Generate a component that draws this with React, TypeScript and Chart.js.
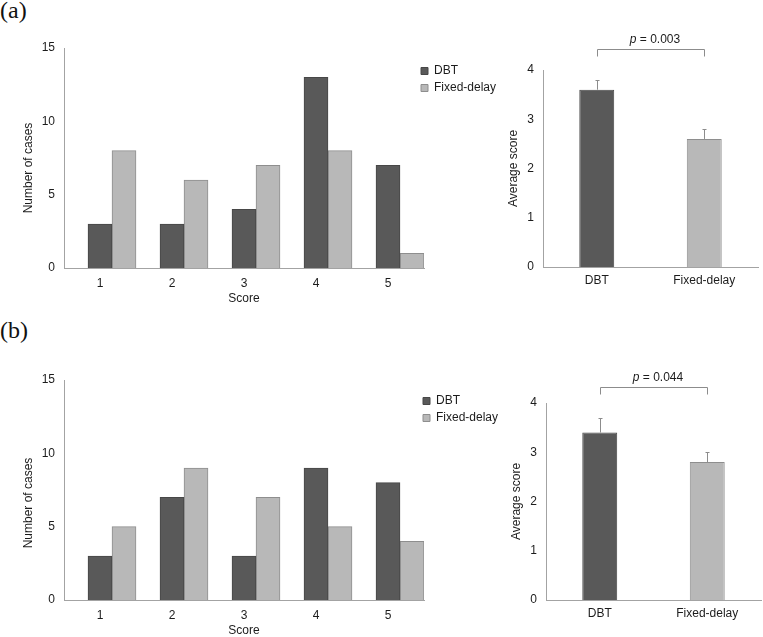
import React, { useEffect, useRef } from 'react';
import { Chart, registerables } from 'chart.js';

Chart.register(...registerables);

// ---------- data ----------
const scores = ['1', '2', '3', '4', '5'];
const dbtCountsA = [3, 3, 4, 13, 7];
const fixedCountsA = [8, 6, 7, 8, 1];
const dbtCountsB = [3, 7, 3, 9, 8];
const fixedCountsB = [5, 9, 7, 5, 4];
const countTicks = [0, 5, 10, 15];

const groups = ['DBT', 'Fixed-delay'];
const avgScoreA = [3.6, 2.6];
const avgErrA = [0.2, 0.2];
const avgScoreB = [3.4, 2.8];
const avgErrB = [0.3, 0.2];
const avgTicks = [0, 1, 2, 3, 4];
const pValueA = '0.003';
const pValueB = '0.044';

// ---------- styles ----------
const FAMILY = "'Liberation Sans', Arial, sans-serif";
const TEXT = '#1c1c1c';
const AXIS = '#a3a3a3';
const DARK = '#595959';
const DARK_BORDER = '#474747';
const LIGHT = '#b8b8b8';
const LIGHT_BORDER = '#8e8e8e';
const WHISKER = '#8c8c8c';
const FS = 12;
const font = { family: FAMILY, size: FS };

Chart.defaults.font.family = FAMILY;
Chart.defaults.font.size = FS;
Chart.defaults.color = TEXT;

// legend sizing / offset helper
const legendFix = {
  id: 'legendFix',
  beforeLayout(chart: any, _a: any, opts: any) {
    const lg = chart.legend;
    if (lg && !lg.__patched) {
      const orig = lg.fit.bind(lg);
      lg.fit = function () {
        orig();
        if (this.options.position === 'right') this.width = opts.width;
      };
      lg.__patched = true;
    }
  },
  afterLayout(chart: any, _a: any, opts: any) {
    const lg = chart.legend;
    if (!lg) return;
    lg.left += opts.dx;
    lg.right += opts.dx;
    lg.top += opts.dy;
    lg.bottom += opts.dy;
  },
};

// moves the y-axis title along the axis by a few pixels
const yTitleShift = {
  id: 'yTitleShift',
  beforeDraw(chart: any, _a: any, opts: any) {
    const s = chart.scales.y;
    if (s && !s.__shifted) {
      const orig = s.drawTitle.bind(s);
      s.drawTitle = function () {
        const ctx = chart.ctx;
        ctx.save();
        ctx.translate(0, opts.shift || 0);
        orig();
        ctx.restore();
      };
      s.__shifted = true;
    }
  },
};

const errorBars = {
  id: 'errorBars',
  afterDatasetsDraw(chart: any, _a: any, opts: any) {
    const { ctx } = chart;
    const meta = chart.getDatasetMeta(0);
    const ys = chart.scales.y;
    const vals = chart.data.datasets[0].data as number[];
    ctx.save();
    ctx.strokeStyle = opts.color;
    ctx.lineWidth = 1;
    meta.data.forEach((bar: any, i: number) => {
      const v = vals[i];
      const e = opts.errors[i];
      const x = Math.round(bar.x) + 0.5;
      const y0 = ys.getPixelForValue(v);
      const y1 = Math.round(ys.getPixelForValue(v + e)) + 0.5;
      ctx.beginPath();
      ctx.moveTo(x, y0);
      ctx.lineTo(x, y1);
      ctx.moveTo(x - opts.cap, y1);
      ctx.lineTo(x + opts.cap, y1);
      ctx.stroke();
    });
    ctx.restore();
  },
};

const sigBracket = {
  id: 'sigBracket',
  afterDraw(chart: any, _a: any, opts: any) {
    const { ctx } = chart;
    const xs = chart.scales.x;
    const ys = chart.scales.y;
    const x0 = Math.round(xs.getPixelForValue(0)) + 0.5;
    const x1 = Math.round(xs.getPixelForValue(1)) + 0.5;
    const y = Math.round(ys.getPixelForValue(opts.level)) + 0.5;
    ctx.save();
    ctx.strokeStyle = opts.color;
    ctx.lineWidth = 1;
    ctx.beginPath();
    ctx.moveTo(x0, y + opts.drop);
    ctx.lineTo(x0, y);
    ctx.lineTo(x1, y);
    ctx.lineTo(x1, y + opts.drop);
    ctx.stroke();
    const rest = ' = ' + opts.p;
    ctx.font = `italic ${FS}px ${FAMILY}`;
    const wP = ctx.measureText('p').width;
    ctx.font = `${FS}px ${FAMILY}`;
    const wR = ctx.measureText(rest).width;
    const start = (x0 + x1) / 2 + opts.dx - (wP + wR) / 2;
    ctx.fillStyle = TEXT;
    ctx.textBaseline = 'middle';
    ctx.textAlign = 'left';
    ctx.font = `italic ${FS}px ${FAMILY}`;
    ctx.fillText('p', start, y - opts.textGap);
    ctx.font = `${FS}px ${FAMILY}`;
    ctx.fillText(rest, start + wP, y - opts.textGap);
    ctx.restore();
  },
};

function countsConfig(dbt: number[], fixed: number[], padTop: number, padBottom: number, dx: number, dy: number, titleShift: number): any {
  return {
    type: 'bar',
    data: {
      labels: scores,
      datasets: [
        { label: '', data: scores.map(() => null), backgroundColor: 'rgba(0,0,0,0)', borderWidth: 0 },
        { label: 'DBT', data: dbt, backgroundColor: DARK, borderColor: DARK_BORDER, borderWidth: 1 },
        { label: 'Fixed-delay', data: fixed, backgroundColor: LIGHT, borderColor: LIGHT_BORDER, borderWidth: 1 },
      ],
    },
    plugins: [legendFix, yTitleShift],
    options: {
      animation: false,
      responsive: false,
      events: [],
      layout: { padding: { top: padTop, bottom: padBottom, left: 0, right: 0 } },
      datasets: { bar: { categoryPercentage: 1, barPercentage: 1 } },
      plugins: {
        legend: {
          position: 'right',
          align: 'start',
          labels: {
            filter: (item: any) => item.text !== '',
            boxWidth: 7,
            boxHeight: 7,
            padding: 5,
            color: TEXT,
            font,
          },
        },
        legendFix: { width: 100, dx, dy },
        yTitleShift: { shift: titleShift },
        tooltip: { enabled: false },
      },
      scales: {
        x: {
          grid: { display: false, drawTicks: false },
          border: { display: true, color: AXIS, width: 1 },
          ticks: { color: TEXT, font, padding: 8 },
          title: { display: true, text: 'Score', color: TEXT, font, padding: { top: 2, bottom: 2 } },
          afterFit: (s: any) => { s.height = 40; },
        },
        y: {
          min: 0,
          max: 15,
          grid: { display: false, drawTicks: false },
          border: { display: true, color: AXIS, width: 1 },
          ticks: { color: TEXT, font, padding: 9 },
          afterBuildTicks: (s: any) => { s.ticks = countTicks.map((v) => ({ value: v })); },
          title: { display: true, text: 'Number of cases', color: TEXT, font, padding: { top: 21, bottom: 21 } },
          afterFit: (s: any) => { s.width = 64; },
        },
      },
    },
  };
}

function avgConfig(vals: number[], errs: number[], p: string, level: number, yWidth: number, pad: any, titlePad: number): any {
  return {
    type: 'bar',
    data: {
      labels: groups,
      datasets: [
        {
          label: 'Average score',
          data: vals,
          backgroundColor: [DARK, LIGHT],
          borderColor: [DARK_BORDER, LIGHT_BORDER],
          borderWidth: 1,
          categoryPercentage: 0.65,
          barPercentage: 0.5,
        },
      ],
    },
    plugins: [errorBars, sigBracket],
    options: {
      animation: false,
      responsive: false,
      events: [],
      layout: { padding: pad },
      plugins: {
        legend: { display: false },
        tooltip: { enabled: false },
        errorBars: { errors: errs, color: WHISKER, cap: 2 },
        sigBracket: { level, p, drop: 7, dx: 4, textGap: 10, color: WHISKER },
      },
      scales: {
        x: {
          grid: { display: false, drawTicks: false },
          border: { display: true, color: AXIS, width: 1 },
          ticks: { color: TEXT, font, padding: 6 },
          afterFit: (s: any) => { s.height = 40; },
        },
        y: {
          min: 0,
          max: 4,
          grid: { display: false, drawTicks: false },
          border: { display: true, color: AXIS, width: 1 },
          ticks: { color: TEXT, font, padding: 9 },
          afterBuildTicks: (s: any) => { s.ticks = avgTicks.map((v) => ({ value: v })); },
          title: { display: true, text: 'Average score', color: TEXT, font, padding: { top: titlePad, bottom: titlePad } },
          afterFit: (s: any) => { s.width = yWidth; },
        },
      },
    },
  };
}

function ChartBox({ config, left, top, width, height }: any) {
  const ref = useRef<HTMLCanvasElement>(null);
  useEffect(() => {
    const chart = new Chart(ref.current as HTMLCanvasElement, config);
    return () => chart.destroy();
  }, []);
  return (
    <canvas
      ref={ref}
      width={width}
      height={height}
      style={{ position: 'absolute', left, top, width, height, display: 'block' }}
    />
  );
}

const panelLabel: React.CSSProperties = {
  position: 'absolute',
  left: 0,
  fontFamily: "'Liberation Serif', 'Times New Roman', serif",
  fontSize: 24,
  lineHeight: '24px',
  color: '#111',
};

export default function App() {
  return (
    <div
      style={{
        position: 'absolute',
        left: 0,
        top: 0,
        width: 763,
        height: 637,
        overflow: 'hidden',
        background: '#fff',
      }}
    >
      <div style={{ ...panelLabel, top: -2 }}>(a)</div>
      <div style={{ ...panelLabel, top: 318 }}>(b)</div>
      <ChartBox config={countsConfig(dbtCountsA, fixedCountsA, 48, 12, -8, 12, 10)} left={0} top={0} width={524} height={320} />
      <ChartBox
        config={avgConfig(avgScoreA, avgErrA, pValueA, 4.42, 53, { top: 70, bottom: 13, left: 0, right: 5 }, 16)}
        left={490}
        top={0}
        width={273}
        height={320}
      />
      <ChartBox config={countsConfig(dbtCountsB, fixedCountsB, 63, 0, -6, 10, 13)} left={0} top={317} width={524} height={323} />
      <ChartBox
        config={avgConfig(avgScoreB, avgErrB, pValueB, 4.335, 56, { top: 86, bottom: 0, left: 0, right: 2 }, 19.5)}
        left={490}
        top={317}
        width={273}
        height={323}
      />
    </div>
  );
}
